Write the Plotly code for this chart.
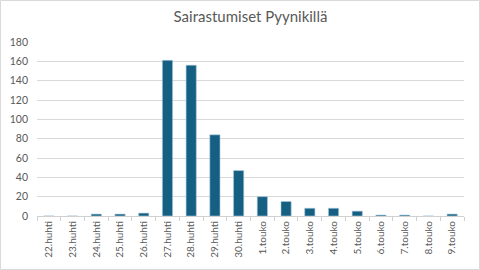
import plotly.graph_objects as go

categories = ["22.huhti", "23.huhti", "24.huhti", "25.huhti", "26.huhti", "27.huhti",
              "28.huhti", "29.huhti", "30.huhti", "1.touko", "2.touko", "3.touko",
              "4.touko", "5.touko", "6.touko", "7.touko", "8.touko", "9.touko"]
values = [0, 0, 2, 2, 3, 161, 156, 84, 47, 20, 15, 8, 8, 5, 1, 1, 0, 2]
y_ticks = [0, 20, 40, 60, 80, 100, 120, 140, 160, 180]

W, H = 480, 270
ml, mr, mt, mb = 37, 16, 42, 54
pw, ph = W - ml - mr, H - mt - mb

fig = go.Figure(go.Bar(
    x=categories, y=values,
    marker=dict(color="#156082", line=dict(color="#a9c8dc", width=0.6)),
))

def px2x(px):
    return (px - ml) / pw

def py2y(py):
    return 1 - (py - mt) / ph

fig.update_layout(
    width=W, height=H,
    margin=dict(l=ml, r=mr, t=mt, b=mb),
    paper_bgcolor="white", plot_bgcolor="white",
    bargap=0.57,
    showlegend=False,
    font=dict(family="Lato, Open Sans, sans-serif", color="#595959", size=10),
    title=dict(text="Sairastumiset Pyynikillä", x=0.5, xref="paper", xanchor="center",
               y=1 - 17 / H, yanchor="middle",
               font=dict(size=15, color="#595959", family="Lato, Open Sans, sans-serif")),
    xaxis=dict(type="category", tickangle=-90, showgrid=False, automargin=False,
               showline=True, linecolor="#d0d0d0", linewidth=1,
               ticks="outside", tickson="boundaries", ticklen=4, tickcolor="#d0d0d0",
               tickfont=dict(size=10, color="#595959")),
    yaxis=dict(range=[0, 180], tickvals=y_ticks, showgrid=True, gridcolor="#d9d9d9",
               gridwidth=1, zeroline=False, showline=False, ticks="", automargin=False,
               ticklabelstandoff=8,
               tickfont=dict(size=10.5, color="#595959")),
    shapes=[dict(type="rect", xref="paper", yref="paper",
                 x0=px2x(0.5), x1=px2x(W - 0.5), y0=py2y(H - 0.5), y1=py2y(0.5),
                 line=dict(color="#d9d9d9", width=1), layer="below")],
)

fig.write_html("out.html")
